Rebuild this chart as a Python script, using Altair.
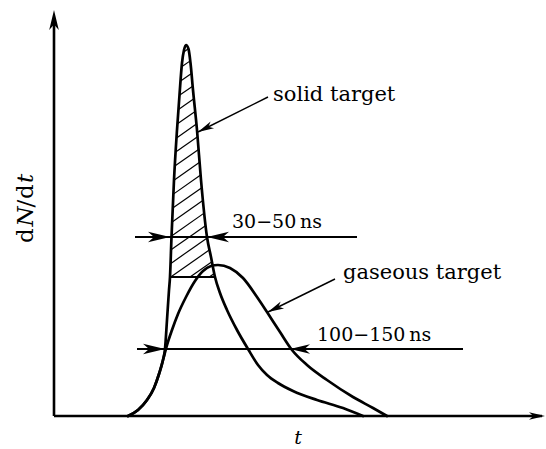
import altair as alt
import numpy as np
import pandas as pd

# ---- data (t: time, v: dN/dt, arbitrary units) ----
solid_t = [74, 84, 93, 100, 105, 109, 111, 113, 115, 116, 117.5, 120, 123, 125.5, 128, 130, 132,
           134.5, 136.5, 139, 143, 147, 153, 157, 161, 166, 173, 183, 194, 204, 213, 224, 239,
           263, 289, 309]
solid_v = [0, 6, 16, 28, 42, 56, 67, 96, 126, 139, 179, 236, 286, 321, 353, 366, 371,
           367, 353, 326, 286, 236, 179, 159, 139, 123, 106, 86, 67, 51, 41, 33, 25,
           16, 8, 0]

gas_t = [74, 84, 93, 100, 105, 109, 113, 118, 124, 132, 141, 149, 157, 164, 176, 189, 203,
         213, 226, 238, 253, 273, 299, 319, 333]
gas_v = [0, 6, 16, 28, 42, 56, 71, 86, 102, 119, 135, 145, 150, 151, 148, 138, 119,
         104, 84, 66, 51, 36, 19, 8, 0]

hatch_floor = 139          # lower edge of the hatched part of the solid-target pulse
hatch_slope = 0.7
hatch_step = 13.5

# measuring / pointer lines
line_name = ["yaxis", "xaxis", "w_solid", "w_gas", "ptr_solid", "ptr_gas"]
line_t1 = [0, 0, 81, 83, 214, 281]
line_v1 = [0, 0, 179, 67, 319, 137]
line_t2 = [0, 488, 303, 409, 144, 214]
line_v2 = [396, 0, 179, 67, 284, 104]
line_w = [2.6, 2.6, 2.0, 2.0, 1.4, 1.4]

# arrow heads (tip position, direction in degrees clockwise or pointer line, length)
head_t = [0, 491, 116, 153, 111, 236, 144, 214]
head_v = [406, 0, 179, 179, 67, 67, 284, 104]
head_dir = [270, 0, 0, 180, 0, 180, "ptr_solid", "ptr_gas"]
head_len = [20, 16, 22, 22, 22, 20, 16, 16]

label_text = ["solid target", "gaseous target"]
label_t = [219, 289]
label_v = [315, 137]
num_text = ["30\u221250\u2009ns", "100\u2212150\u2009ns"]
num_t = [178, 263]
num_v = [188, 75]

# y-axis title pieces: d (roman) N (italic) /d (roman) t (italic)
ytitle_text = ["d", "N", "/", "d", "t"]
ytitle_style = ["normal", "italic", "normal", "normal", "italic"]
ytitle_v = [173, 189.5, 208.5, 217, 233]

# ---- scales ----
x_dom = [-54, 492]
y_dom = [-33, 416]
xs = alt.Scale(domain=x_dom, nice=False, zero=False)
ys = alt.Scale(domain=y_dom, nice=False, zero=False)


def X(f):
    return alt.X(f + ":Q", scale=xs, axis=None)


def Y(f):
    return alt.Y(f + ":Q", scale=ys, axis=None)


# ---- curves ----
curves = pd.concat([
    pd.DataFrame({"t": solid_t, "v": solid_v, "k": "solid", "i": range(len(solid_t))}),
    pd.DataFrame({"t": gas_t, "v": gas_v, "k": "gas", "i": range(len(gas_t))}),
])
curve_layer = alt.Chart(curves).mark_line(
    color="black", strokeWidth=2.7, interpolate="monotone", strokeJoin="round", strokeCap="round"
).encode(x=X("t"), y=Y("v"), detail="k:N", order="i:Q")

# ---- hatching of the solid pulse above the floor ----
s_t = np.array(solid_t, float)
s_v = np.array(solid_v, float)
pk = int(np.argmax(s_v))
lt, lv = s_t[:pk + 1], s_v[:pk + 1]
rt, rv = s_t[pk:][::-1], s_v[pk:][::-1]
ts = np.arange(100, 180, 0.02)
rows = []
c0 = hatch_floor - hatch_slope * np.interp(hatch_floor, rv, rt)
for c in np.arange(c0 + 4, s_v[pk] - hatch_slope * s_t[pk], hatch_step):
    vv = c + hatch_slope * ts
    inside = (vv >= hatch_floor) & (vv <= s_v[pk]) & \
             (ts >= np.interp(vv, lv, lt)) & (ts <= np.interp(vv, rv, rt))
    if inside.sum() > 2:
        idx = np.where(inside)[0]
        rows.append({"t": ts[idx[0]], "v": vv[idx[0]], "t2": ts[idx[-1]], "v2": vv[idx[-1]]})
hatch = pd.DataFrame(rows)
hatch_layer = alt.Chart(hatch).mark_rule(color="black", strokeWidth=1.2).encode(
    x=X("t"), y=Y("v"), x2="t2:Q", y2="v2:Q")

floor_df = pd.DataFrame({"t": [np.interp(hatch_floor, lv, lt)], "v": [hatch_floor],
                         "t2": [np.interp(hatch_floor, rv, rt)], "v2": [hatch_floor]})
floor_layer = alt.Chart(floor_df).mark_rule(color="black", strokeWidth=2.0).encode(
    x=X("t"), y=Y("v"), x2="t2:Q", y2="v2:Q")

# ---- straight lines ----
lines = pd.DataFrame({"name": line_name, "t": line_t1, "v": line_v1, "t2": line_t2,
                      "v2": line_v2, "w": line_w})
line_layer = alt.Chart(lines).mark_rule(color="black").encode(
    x=X("t"), y=Y("v"), x2="t2:Q", y2="v2:Q",
    strokeWidth=alt.StrokeWidth("w:Q", scale=None))

# ---- arrow heads ----
dirs = []
for d in head_dir:
    if isinstance(d, str):  # pointer: direction from line start to tip
        j = line_name.index(d)
        dt = line_t2[j] - line_t1[j]
        dv = line_v2[j] - line_v1[j]
        d = float(np.degrees(np.arctan2(-dv, dt)) % 360)
    dirs.append(d)
heads = pd.DataFrame({"t": head_t, "v": head_v, "ang": dirs,
                      "size": [(l / 2) ** 2 * 4 for l in head_len]})
arrow_path = "M0,0 L-2,-0.48 L-1.45,0 L-2,0.48 Z"
head_layer = alt.Chart(heads).mark_point(
    shape=arrow_path, filled=True, color="black", opacity=1, strokeWidth=0
).encode(x=X("t"), y=Y("v"), angle=alt.Angle("ang:Q", scale=None),
         size=alt.Size("size:Q", scale=None))

# ---- text ----
FONT = "DejaVu Serif"
lab = pd.DataFrame({"txt": label_text, "t": label_t, "v": label_v})
lab_layer = alt.Chart(lab).mark_text(font=FONT, fontSize=21, align="left",
                                     baseline="alphabetic", color="black").encode(
    x=X("t"), y=Y("v"), text="txt:N")
num = pd.DataFrame({"txt": num_text, "t": num_t, "v": num_v})
num_layer = alt.Chart(num).mark_text(font=FONT, fontSize=19, align="left",
                                     baseline="alphabetic", color="black").encode(
    x=X("t"), y=Y("v"), text="txt:N")

tlab = pd.DataFrame({"txt": ["t"], "t": [244], "v": [-28]})
tlab_layer = alt.Chart(tlab).mark_text(font=FONT, fontSize=19, fontStyle="italic",
                                       align="center", baseline="alphabetic").encode(
    x=X("t"), y=Y("v"), text="txt:N")

ylab = pd.DataFrame({"txt": ytitle_text, "st": ytitle_style, "t": [-21] * 5, "v": ytitle_v})
ylab_roman = alt.Chart(ylab[ylab.st == "normal"]).mark_text(
    font=FONT, fontSize=23, angle=270, align="left", baseline="alphabetic").encode(
    x=X("t"), y=Y("v"), text="txt:N")
ylab_ital = alt.Chart(ylab[ylab.st == "italic"]).mark_text(
    font=FONT, fontSize=23, angle=270, align="left", baseline="alphabetic",
    fontStyle="italic").encode(x=X("t"), y=Y("v"), text="txt:N")

chart = alt.layer(
    hatch_layer, floor_layer, curve_layer, line_layer, head_layer,
    lab_layer, num_layer, tlab_layer, ylab_roman, ylab_ital
).properties(
    width=546, height=449, padding=0, autosize="none", background="white"
).configure_view(stroke=None)

chart.save("out.html", embed_options={"renderer": "svg", "actions": False})
